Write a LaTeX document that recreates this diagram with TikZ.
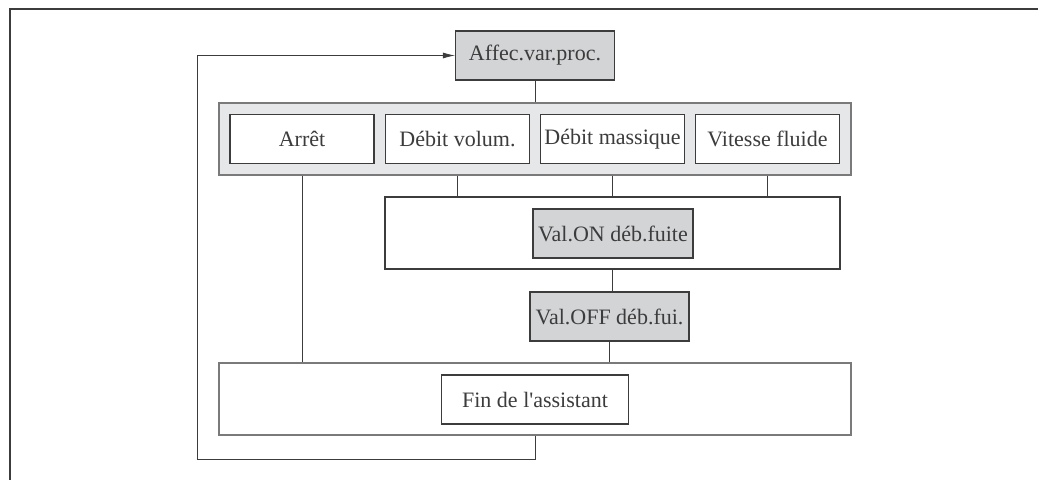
\documentclass[tikz,border=0pt]{standalone}
\usepackage{fontspec}
\newfontfamily\boxfont{Liberation Serif}
\usepackage{tikz}
\usetikzlibrary{positioning,arrows.meta,calc}
\definecolor{edge}{HTML}{3C3C3C}
\definecolor{paramfill}{HTML}{D3D4D6}
\definecolor{groupfill}{HTML}{E6E7E9}
\definecolor{groupedge}{HTML}{7A7A7A}

\begin{document}
\begin{tikzpicture}[x=1pt, y=-1pt,
  every node/.style={font=\boxfont\fontsize{22}{26}\selectfont, text=edge, inner sep=0pt},
  param/.style={draw=edge, line width=1.1pt, fill=paramfill, minimum width=159pt, minimum height=49pt},
  option/.style={draw=edge, line width=1.1pt, fill=white, minimum width=144pt, minimum height=49pt},
  group/.style={draw=groupedge, line width=1.1pt, fill=groupfill, minimum width=632pt, minimum height=72pt},
  frame/.style={draw=edge, line width=1.1pt, fill=white, minimum height=72pt},
  wire/.style={edge, line width=0.8pt}]
  \useasboundingbox (0,0) rectangle (1038,480);
  \draw[edge, line width=1.4pt] (1038,9) -- (10,9) -- (10,480);

  \node[param] (affec) at (535,55.5) {Affec.var.proc.};
  \node[group] (opts) at (535,139) {};
  \foreach \i/\x/\t in {1/302/Arrêt, 2/457.5/Débit volum., 3/612.5/Débit massique, 4/767.5/Vitesse fluide} {
    \node[option] (o\i) at (\x,139) {\t};
  }
  \node[frame, minimum width=455pt] (ongrp) at (612.5,233) {};
  \node[param, minimum width=160pt] (valon) at (613,233.5) {Val.ON déb.fuite};
  \node[param] (valoff) at (609.5,316.5) {Val.OFF déb.fui.};
  \node[frame, draw=groupedge, minimum width=632pt] (fingrp) at (535,399) {};
  \node[option, minimum width=187pt] (fin) at (535,399.5) {Fin de l'assistant};

  % connectors
  \draw[wire] (affec) -- (opts);
  \draw[wire] (o1 |- opts.south) -- (o1 |- fingrp.north);
  \foreach \i in {2,3,4} {
    \draw[wire] (o\i |- opts.south) -- (o\i |- ongrp.north);
  }
  \draw[wire] (ongrp.south) -- (ongrp.south |- valoff.north);
  \draw[wire] (valoff.south) -- (valoff.south |- fingrp.north);
  \coordinate (back) at (197,459);
  \draw[wire, -{Latex[length=12pt,width=6pt]}] (fingrp.south) |- (back) |- (affec.west);
\end{tikzpicture}
\end{document}
